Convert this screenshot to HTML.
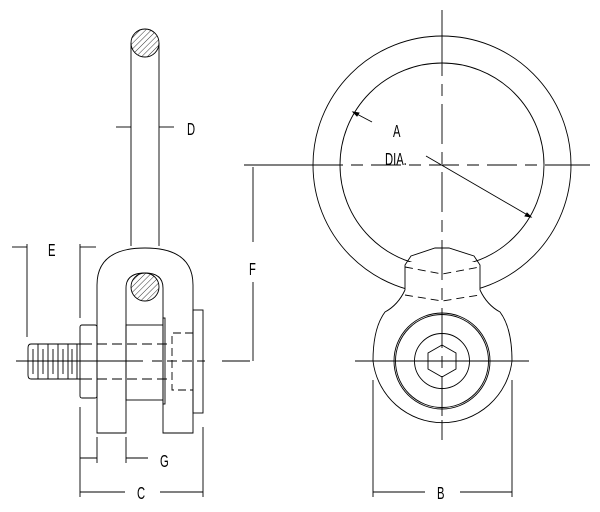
<!DOCTYPE html>
<html><head><style>html,body{margin:0;padding:0;background:#fff}svg{display:block}text{font-family:"Liberation Sans",sans-serif;font-size:16px;fill:#000}</style></head>
<body>
<svg width="600" height="512" viewBox="0 0 600 512" xmlns="http://www.w3.org/2000/svg">
<defs>
<pattern id="h" width="4" height="4" patternUnits="userSpaceOnUse" patternTransform="rotate(45)"><line x1="0" y1="0" x2="0" y2="4" stroke="#000" stroke-width="0.8"/></pattern>
<clipPath id="ringclip"><rect x="0" y="0" width="600" height="262"/><rect x="0" y="262" width="405" height="250"/><rect x="480" y="262" width="120" height="250"/></clipPath>
</defs>
<g fill="none" stroke="#000" stroke-width="0.9">
<g clip-path="url(#ringclip)">
<circle cx="442" cy="165" r="129"/>
<circle cx="442" cy="165" r="102"/>
</g>
<line x1="442" y1="10" x2="442" y2="36"/>
<line x1="442" y1="36" x2="442" y2="420" stroke-dasharray="40,8,12,8"/>
<line x1="442" y1="420" x2="442" y2="440"/>
<line x1="244" y1="165" x2="313" y2="165"/>
<line x1="313" y1="165" x2="571" y2="165" stroke-dasharray="30,8,12,8"/>
<line x1="571" y1="165" x2="590" y2="165"/>
<polyline points="405,290 405,265 411,256 435,248 449,248 474,256 480,265 480,290"/>
<path d="M405,290 Q398,305 385,312 Q373,328 373,361 A70,70 0 0 0 512,361 Q512,328 500,312 Q487,305 480,290"/>
<polyline points="405,267 442,274 480,267" stroke-dasharray="8,5"/>
<polyline points="405,295 442,301 480,295" stroke-dasharray="8,5"/>
<circle cx="442" cy="361" r="48"/>
<circle cx="442" cy="361" r="46.5"/>
<circle cx="442" cy="361" r="27.5"/>
<polygon points="442,345 456,353 456,369 442,377 428,369 428,353"/>
<line x1="355" y1="361" x2="529" y2="361"/>
<line x1="353" y1="112" x2="372" y2="122"/>
<path d="M353,112 l6,1 l-2,3z" fill="#000"/>
<line x1="426" y1="156" x2="531" y2="217"/>
<path d="M531,217 l-6,-1 l2,-3z" fill="#000"/>
<line x1="373" y1="380" x2="373" y2="497"/>
<line x1="512" y1="380" x2="512" y2="497"/>
<line x1="373" y1="492" x2="425" y2="492"/>
<line x1="460" y1="492" x2="512" y2="492"/>
<line x1="253" y1="167" x2="253" y2="242"/>
<line x1="253" y1="282" x2="253" y2="361"/>
<line x1="222" y1="361" x2="250" y2="361"/>
<line x1="131" y1="43" x2="131" y2="246"/>
<line x1="159" y1="43" x2="159" y2="246"/>
<circle cx="145" cy="43" r="14" fill="url(#h)"/>
<line x1="116" y1="127" x2="131" y2="127"/><line x1="159" y1="127" x2="174" y2="127"/>
<path d="M97,433 L97,285 Q97,248 145,248 Q193,248 193,285 L193,433 L163,433 L163,288 Q163,273 145,273 Q126,273 126,288 L126,433 Z"/>
<circle cx="145" cy="287" r="14" fill="url(#h)"/>
<rect x="80" y="325" width="17" height="73" rx="2"/>
<rect x="126" y="325" width="37" height="75"/>
<rect x="163" y="318" width="2" height="86"/>
<rect x="193" y="310" width="10" height="103"/>
<polyline points="193,333 172,333 172,390 193,390" stroke-dasharray="8,4"/>
<path d="M82,344 L31,344 Q28,344 28,348 L28,375 Q28,379 31,379 L82,379"/>
<line x1="38" y1="344" x2="38" y2="379"/><line x1="48" y1="344" x2="48" y2="379"/><line x1="58" y1="344" x2="58" y2="379"/><line x1="68" y1="344" x2="68" y2="379"/><line x1="77" y1="344" x2="77" y2="379"/>
<line x1="33" y1="349" x2="33" y2="374"/><line x1="43" y1="349" x2="43" y2="374"/><line x1="53" y1="349" x2="53" y2="374"/><line x1="63" y1="349" x2="63" y2="374"/><line x1="72" y1="349" x2="72" y2="374"/>
<line x1="82" y1="344" x2="172" y2="344" stroke-dasharray="10,5"/>
<line x1="82" y1="379" x2="172" y2="379" stroke-dasharray="10,5"/>
<line x1="16" y1="361" x2="143" y2="361"/>
<line x1="152" y1="361" x2="205" y2="361" stroke-dasharray="10,5"/>
<line x1="27" y1="244" x2="27" y2="337"/>
<line x1="80" y1="244" x2="80" y2="318"/>
<line x1="12" y1="247" x2="27" y2="247"/><line x1="80" y1="247" x2="96" y2="247"/>
<line x1="97" y1="437" x2="97" y2="463"/>
<line x1="126" y1="437" x2="126" y2="463"/>
<line x1="80" y1="458" x2="97" y2="458"/><line x1="126" y1="458" x2="148" y2="458"/>
<line x1="80" y1="407" x2="80" y2="497"/>
<line x1="203" y1="427" x2="203" y2="497"/>
<line x1="80" y1="492" x2="125" y2="492"/><line x1="160" y1="492" x2="203" y2="492"/>
</g>
<g>
<text transform="translate(187,135) scale(0.7,1.1)">D</text>
<text transform="translate(48,256) scale(0.7,1.1)">E</text>
<text transform="translate(160,467) scale(0.7,1.1)">G</text>
<text transform="translate(137,499) scale(0.7,1.1)">C</text>
<text transform="translate(437,499) scale(0.7,1.1)">B</text>
<text transform="translate(249,275) scale(0.7,1.1)">F</text>
<text transform="translate(393,137) scale(0.7,1.1)">A</text>
<text transform="translate(385,165) scale(0.7,1.1)">DIA.</text>
</g>
</svg>
</body></html>
